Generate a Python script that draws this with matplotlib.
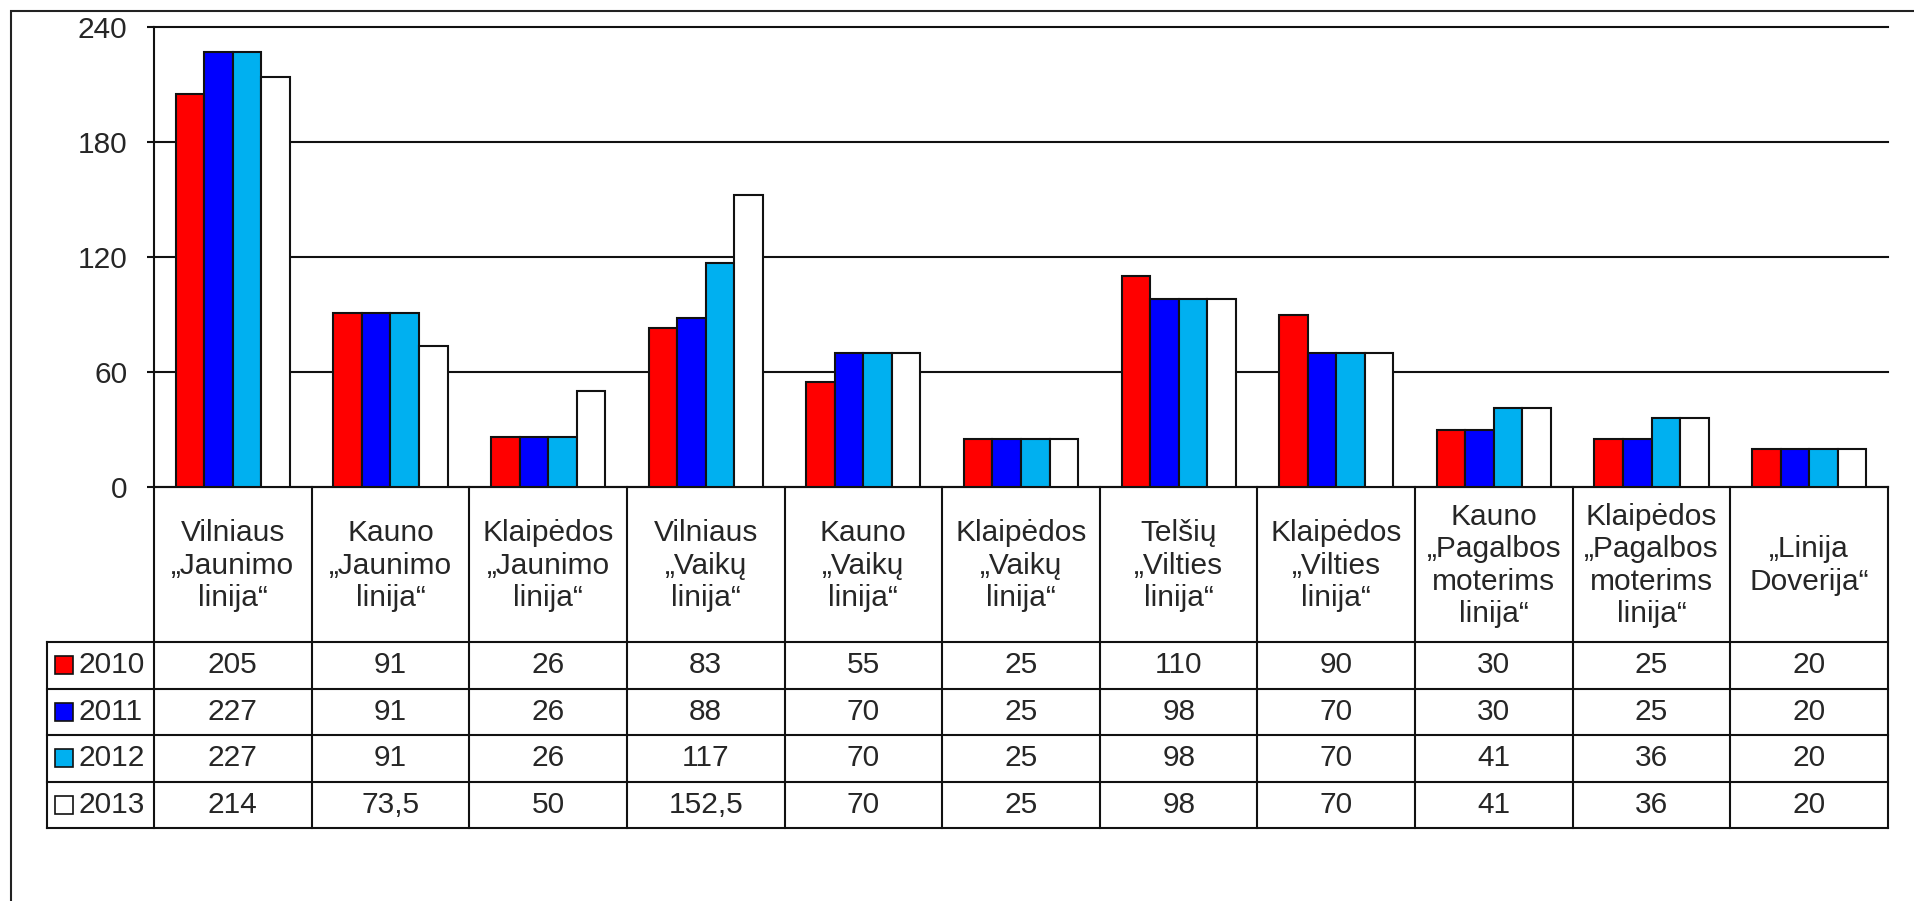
import matplotlib
matplotlib.use("Agg")
import matplotlib.pyplot as plt
from matplotlib.transforms import blended_transform_factory
from matplotlib.patches import Rectangle
import numpy as np

plt.rcParams['font.family'] = ['Liberation Sans', 'DejaVu Sans']
plt.rcParams['font.size'] = 21

categories = [
    "Vilniaus\n„Jaunimo\nlinija“",
    "Kauno\n„Jaunimo\nlinija“",
    "Klaipėdos\n„Jaunimo\nlinija“",
    "Vilniaus\n„Vaikų\nlinija“",
    "Kauno\n„Vaikų\nlinija“",
    "Klaipėdos\n„Vaikų\nlinija“",
    "Telšių\n„Vilties\nlinija“",
    "Klaipėdos\n„Vilties\nlinija“",
    "Kauno\n„Pagalbos\nmoterims\nlinija“",
    "Klaipėdos\n„Pagalbos\nmoterims\nlinija“",
    "„Linija\nDoverija“",
]
years = ["2010", "2011", "2012", "2013"]
v2010 = [205, 91, 26, 83, 55, 25, 110, 90, 30, 25, 20]
v2011 = [227, 91, 26, 88, 70, 25, 98, 70, 30, 25, 20]
v2012 = [227, 91, 26, 117, 70, 25, 98, 70, 41, 36, 20]
v2013 = [214, 73.5, 50, 152.5, 70, 25, 98, 70, 41, 36, 20]
series = [v2010, v2011, v2012, v2013]
colors = ["#FF0000", "#0000FF", "#00B0F0", "#FFFFFF"]
yticks = [0, 60, 120, 180, 240]

W, H = 1914, 901
TXT = "#262626"
LW = 1.5

fig = plt.figure(figsize=(W / 100, H / 100), dpi=100)
fig.patch.set_facecolor("white")

# outer frame
fig.add_artist(Rectangle((11 / W, -0.1), 1.2, 1 - 11 / H + 0.1, transform=fig.transFigure,
                         fill=False, edgecolor="#222222", linewidth=LW))

ax_l, ax_r, ax_t, ax_b = 154, 1888, 27, 487
ax = fig.add_axes([ax_l / W, 1 - ax_b / H, (ax_r - ax_l) / W, (ax_b - ax_t) / H])

n = len(categories)
x = np.arange(n)
bw = 0.181
for i, (vals, c) in enumerate(zip(series, colors)):
    ax.bar(x + (i - 1.5) * bw, vals, width=bw, color=c, edgecolor="#111111",
           linewidth=LW, zorder=3, label=years[i])

ax.set_xlim(-0.5, n - 0.5)
ax.set_ylim(0, 240)
ax.set_yticks(yticks)
ax.set_yticklabels([str(t) for t in yticks], color=TXT)
ax.set_xticks([])
ax.yaxis.grid(True, color="#111111", linewidth=LW, zorder=0)
for t in ax.yaxis.get_gridlines():
    t.set_clip_on(False)
ax.tick_params(axis="y", direction="out", length=5, width=LW, pad=14, colors="#111111",
               labelcolor=TXT, labelsize=21.5)
for s in ["top", "right"]:
    ax.spines[s].set_visible(False)
for s in ["left", "bottom"]:
    ax.spines[s].set_linewidth(LW)
    ax.spines[s].set_color("#111111")

# data table below the chart
trans = blended_transform_factory(ax.transData, fig.transFigure)
fy = lambda p: 1 - p / H
fx = lambda p: p / W

header_bottom = 642
row_h = 46.5
rows_y = [header_bottom + k * row_h for k in range(len(years) + 1)]
leg_left = 47

# horizontal lines
for yy in rows_y:
    ax.plot([fx(leg_left), fx(ax_r)], [fy(yy), fy(yy)], transform=fig.transFigure,
            color="#111111", linewidth=LW, clip_on=False)
# vertical lines between categories
for k in range(n + 1):
    ax.plot([k - 0.5, k - 0.5], [fy(ax_b), fy(rows_y[-1])], transform=trans,
            color="#111111", linewidth=LW, clip_on=False)
ax.plot([fx(leg_left), fx(leg_left)], [fy(rows_y[0]), fy(rows_y[-1])],
        transform=fig.transFigure, color="#111111", linewidth=LW, clip_on=False)

# category headers
for k, lab in enumerate(categories):
    ax.text(k, fy((ax_b + header_bottom) / 2 + 1), lab, transform=trans, ha="center",
            va="center", color=TXT, linespacing=1.2, fontsize=21.5)

# rows
for r, (yr, vals, c) in enumerate(zip(years, series, colors)):
    yc = (rows_y[r] + rows_y[r + 1]) / 2
    sq = 18
    fig.add_artist(Rectangle((fx(55), fy(yc + sq / 2)), sq / W, sq / H,
                             transform=fig.transFigure, facecolor=c,
                             edgecolor="#111111", linewidth=1.2))
    fig.text(fx(78), fy(yc), yr, ha="left", va="center", color=TXT, fontsize=21.5)
    for k, v in enumerate(vals):
        s = (f"{v:g}").replace(".", ",")
        ax.text(k, fy(yc), s, transform=trans, ha="center", va="center",
                color=TXT, fontsize=21.5)

fig.savefig("out.png", dpi=100)
